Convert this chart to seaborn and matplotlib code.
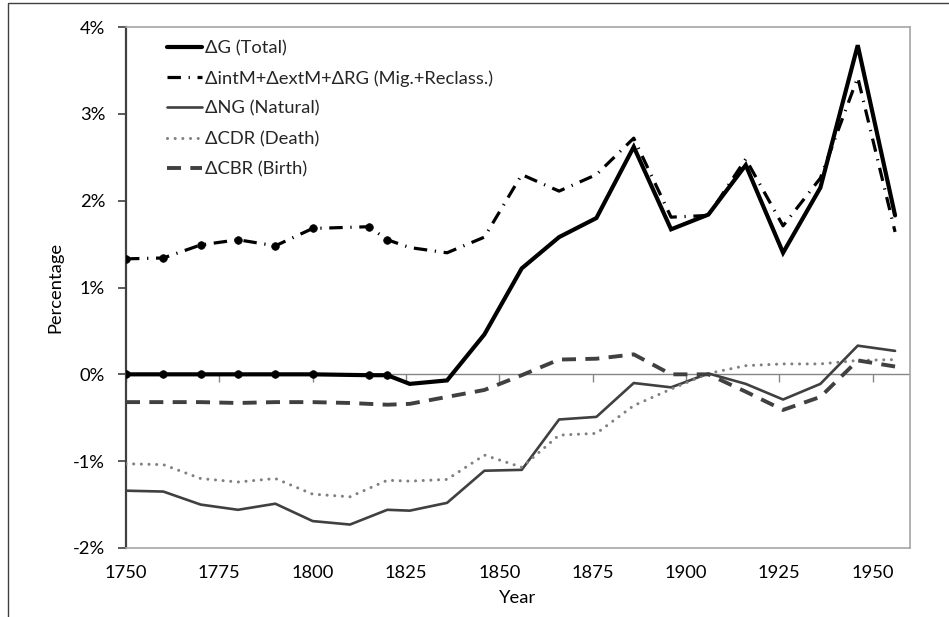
import matplotlib
matplotlib.use("Agg")
import matplotlib.pyplot as plt
import numpy as np
import pandas as pd
import seaborn as sns
from matplotlib.ticker import PercentFormatter, MultipleLocator
from matplotlib.patches import Rectangle
from matplotlib.lines import Line2D

# ---- data (percent) ----
years_g = [1750, 1760, 1770, 1780, 1790, 1800, 1815, 1820, 1826, 1836, 1846,
           1856, 1866, 1876, 1886, 1896, 1906, 1916, 1926, 1936, 1946, 1956]
total = [0.0, 0.0, 0.0, 0.0, 0.0, 0.0, -0.01, -0.01, -0.11, -0.07, 0.46,
         1.22, 1.58, 1.80, 2.62, 1.67, 1.84, 2.41, 1.40, 2.15, 3.79, 1.83]
migration = [1.33, 1.34, 1.49, 1.55, 1.48, 1.68, 1.70, 1.55, 1.46, 1.40, 1.58,
             2.30, 2.11, 2.30, 2.72, 1.81, 1.83, 2.48, 1.71, 2.26, 3.42, 1.64]

years_n = [1750, 1760, 1770, 1780, 1790, 1800, 1810, 1820, 1826, 1836, 1846,
           1856, 1866, 1876, 1886, 1896, 1906, 1916, 1926, 1936, 1946, 1956]
natural = [-1.34, -1.35, -1.50, -1.56, -1.49, -1.69, -1.73, -1.56, -1.57, -1.48, -1.11,
           -1.10, -0.52, -0.49, -0.10, -0.15, 0.01, -0.11, -0.29, -0.11, 0.33, 0.27]
death = [-1.03, -1.04, -1.20, -1.24, -1.20, -1.38, -1.41, -1.22, -1.23, -1.21, -0.93,
         -1.07, -0.70, -0.68, -0.36, -0.17, 0.01, 0.10, 0.12, 0.12, 0.16, 0.17]
birth = [-0.32, -0.32, -0.32, -0.33, -0.32, -0.32, -0.33, -0.35, -0.34, -0.26, -0.18,
         -0.01, 0.17, 0.18, 0.23, 0.00, 0.00, -0.20, -0.41, -0.26, 0.16, 0.09]

labels = ["\u0394G (Total)",
          "\u0394intM+\u0394extM+\u0394RG (Mig.+Reclass.)",
          "\u0394NG (Natural)",
          "\u0394CDR (Death)",
          "\u0394CBR (Birth)"]
x_ticks = [1750, 1775, 1800, 1825, 1850, 1875, 1900, 1925, 1950]

df_g = pd.DataFrame({"Year": years_g, "total": total, "migration": migration})
df_n = pd.DataFrame({"Year": years_n, "natural": natural, "death": death, "birth": birth})

sns.set_theme(style="white")
plt.rcParams["font.family"] = ["Lato", "DejaVu Sans"]
plt.rcParams["axes.unicode_minus"] = False

W, H = 949, 617
fig = plt.figure(figsize=(W / 100, H / 100), dpi=100)
ax = fig.add_axes([126 / W, 1 - 548 / H, (910 - 126) / W, (548 - 27) / H])

FS = 13.2
mark_n = 8

styles = [
    dict(color="black", linewidth=3.0, solid_joinstyle="miter"),
    dict(color="black", linewidth=2.3, linestyle=(0, (4.2, 2.4, 0.4, 2.4)), dash_capstyle="butt"),
    dict(color="#404040", linewidth=1.9),
    dict(color="#808080", linewidth=2.2, linestyle=(0, (0.01, 2.5)), dash_capstyle="round"),
    dict(color="#404040", linewidth=2.8, linestyle=(0, (3.6, 2.4)), dash_capstyle="butt"),
]
marker_kw = dict(marker="o", markersize=5.5, markevery=list(range(mark_n)),
                 markeredgecolor="black", markeredgewidth=0.5)

sns.lineplot(data=df_g, x="Year", y="total", ax=ax, zorder=5, **styles[0], **marker_kw)
sns.lineplot(data=df_g, x="Year", y="migration", ax=ax, zorder=4, **styles[1], **marker_kw)
sns.lineplot(data=df_n, x="Year", y="natural", ax=ax, zorder=3, **styles[2])
sns.lineplot(data=df_n, x="Year", y="death", ax=ax, zorder=3, **styles[3])
sns.lineplot(data=df_n, x="Year", y="birth", ax=ax, zorder=3, **styles[4])

# zero line with ticks
ax.axhline(0, color="#868686", linewidth=1.0, zorder=1.5)
sec = ax.secondary_xaxis(1 / 3)
sec.set_xticks(x_ticks)
sec.tick_params(axis="x", which="both", direction="out", length=6, width=1.0,
                color="#868686", labelbottom=False, labeltop=False)
for s in sec.spines.values():
    s.set_visible(False)

ax.set_xlim(1750, 1960)
ax.set_ylim(-2, 4)
ax.set_xticks(x_ticks)
ax.yaxis.set_major_locator(MultipleLocator(1))
ax.yaxis.set_major_formatter(PercentFormatter(xmax=100, decimals=0))
ax.tick_params(axis="x", length=0, pad=12, labelsize=FS, labelcolor="black")
ax.tick_params(axis="y", direction="out", length=6, width=1.2, color="#404040",
               pad=9, labelsize=FS, labelcolor="black", left=True)

for name, sp in ax.spines.items():
    sp.set_visible(True)
    sp.set_color("#a6a6a6")
    sp.set_linewidth(1.2)
ax.spines["left"].set_color("#404040")
ax.spines["left"].set_linewidth(1.6)

ax.set_xlabel("Year", fontsize=FS, color="black", labelpad=7)
ax.set_ylabel("Percentage", fontsize=FS, color="black", labelpad=7)

proxies = [Line2D([], [], **st) for st in styles]
leg = ax.legend(proxies, labels, loc="upper left", bbox_to_anchor=(0.036, 1.0),
                frameon=False, fontsize=FS, handlelength=1.9, handletextpad=0.15,
                labelspacing=0.77, borderaxespad=0.3)

fig.add_artist(Rectangle((8 / W, -0.05), 1.2, 1.05 - 3 / H, transform=fig.transFigure,
                         fill=False, edgecolor="#404040", linewidth=1.0))

fig.savefig("out.png", dpi=100)
